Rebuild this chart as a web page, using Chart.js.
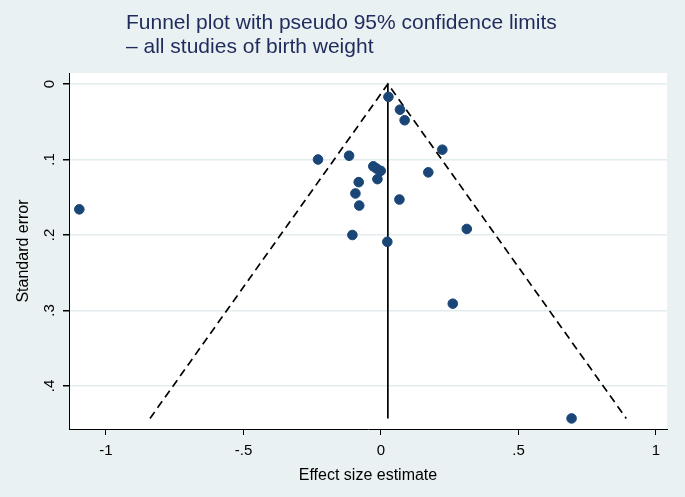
<!DOCTYPE html>
<html>
<head>
<meta charset="utf-8">
<script src="https://cdn.jsdelivr.net/npm/chart.js@4.4.1/dist/chart.umd.min.js"></script>
<style>
  html, body { margin: 0; padding: 0; background: #eaf1f2; }
  canvas { display: block; }
</style>
</head>
<body>
<canvas id="funnel" width="685" height="497"></canvas>
<script>
// Study estimates
const effectSize = [0.027, 0.069, 0.086, 0.223, -0.229, -0.116, -0.028, -0.016, -0.001, 0.172,
                    -0.081, -0.013, -0.093, -0.079, 0.067, 0.312, -0.104, 0.023, 0.261, 0.693, -1.097];
const standardError = [0.017, 0.034, 0.048, 0.087, 0.100, 0.095, 0.109, 0.112, 0.115, 0.117,
                       0.130, 0.126, 0.145, 0.161, 0.153, 0.192, 0.200, 0.209, 0.291, 0.443, 0.166];

// Pseudo 95% limits and pooled estimate line
const funnelX = [-0.84, 0.025, 0.892];
const funnelSE = [0.443, 0, 0.443];
const pooledX = [0.025, 0.025];
const pooledSE = [0, 0.443];

// Axis ticks
const xTicks = [-1, -0.5, 0, 0.5, 1];
const xTickLabels = ['-1', '-.5', '0', '.5', '1'];
const yTicks = [0, 0.1, 0.2, 0.3, 0.4];
const yTickLabels = ['0', '.1', '.2', '.3', '.4'];

const titleLines = ['Funnel plot with pseudo 95% confidence limits', '\u2013 all studies of birth weight'];

const toPoints = (xs, ys) => xs.map((x, i) => ({ x: x, y: ys[i] }));

// Background + white plot region
const backgroundPlugin = {
    id: 'background',
    beforeDraw(chart) {
        const ctx = chart.ctx;
        const area = chart.chartArea;
        ctx.save();
        ctx.fillStyle = '#eaf1f2';
        ctx.fillRect(0, 0, chart.width, chart.height);
        ctx.fillStyle = '#ffffff';
        ctx.fillRect(area.left, area.top, area.right - area.left, area.bottom - area.top);
        ctx.restore();
    }
};

// Title text and rotated y tick labels
const textPlugin = {
    id: 'texts',
    afterDraw(chart) {
        const ctx = chart.ctx;
        ctx.save();
        ctx.fillStyle = '#1f2b5c';
        ctx.font = '21px "Liberation Sans", Arial, sans-serif';
        ctx.textAlign = 'left';
        ctx.textBaseline = 'alphabetic';
        ctx.fillText(titleLines[0], 126, 29);
        ctx.fillText(titleLines[1], 126, 53);

        const yScale = chart.scales.y;
        ctx.fillStyle = '#000000';
        ctx.font = '15px "Liberation Sans", Arial, sans-serif';
        ctx.textAlign = 'center';
        ctx.textBaseline = 'middle';
        yTicks.forEach((v, i) => {
            const py = yScale.getPixelForValue(v);
            ctx.save();
            ctx.translate(50, py);
            ctx.rotate(-Math.PI / 2);
            ctx.fillText(yTickLabels[i], 0, 0);
            ctx.restore();
        });
        ctx.restore();
    }
};

const ctx = document.getElementById('funnel').getContext('2d');

new Chart(ctx, {
    type: 'scatter',
    data: {
        datasets: [
            {
                label: 'Studies',
                data: toPoints(effectSize, standardError),
                backgroundColor: '#1a4677',
                borderColor: '#1a4677',
                pointRadius: 4.8,
                pointHoverRadius: 4.8,
                order: 0
            },
            {
                label: 'Pseudo 95% CI',
                data: toPoints(funnelX, funnelSE),
                showLine: true,
                borderColor: '#000000',
                borderWidth: 1.7,
                borderDash: [8, 5],
                pointRadius: 0,
                fill: false,
                order: 1
            },
            {
                label: 'Pooled',
                data: toPoints(pooledX, pooledSE),
                showLine: true,
                borderColor: '#000000',
                borderWidth: 1.7,
                pointRadius: 0,
                fill: false,
                order: 1
            }
        ]
    },
    options: {
        responsive: false,
        animation: false,
        devicePixelRatio: 1,
        layout: {
            padding: { left: 0, right: 18, top: 73, bottom: 0 }
        },
        plugins: {
            legend: { display: false },
            tooltip: { enabled: false },
            title: { display: false }
        },
        scales: {
            x: {
                type: 'linear',
                min: -1.1345,
                max: 1.04,
                afterFit: function(scale) { scale.height = 68; },
                afterBuildTicks: function(scale) {
                    scale.ticks = xTicks.map(v => ({ value: v }));
                },
                border: { display: true, color: '#000000', width: 1 },
                grid: {
                    display: true,
                    drawOnChartArea: false,
                    drawTicks: true,
                    tickLength: 6,
                    tickColor: '#000000',
                    color: '#000000'
                },
                ticks: {
                    color: '#000000',
                    padding: 7,
                    maxRotation: 0,
                    font: { family: '"Liberation Sans", Arial, sans-serif', size: 15 },
                    callback: function(value) {
                        const i = xTicks.indexOf(value);
                        return i >= 0 ? xTickLabels[i] : '';
                    }
                },
                title: {
                    display: true,
                    text: 'Effect size estimate',
                    color: '#000000',
                    font: { family: '"Liberation Sans", Arial, sans-serif', size: 16 },
                    padding: { top: 0, bottom: 12 }
                }
            },
            y: {
                type: 'linear',
                reverse: true,
                min: -0.0146,
                max: 0.457,
                afterFit: function(scale) { scale.width = 69; },
                afterBuildTicks: function(scale) {
                    scale.ticks = yTicks.map(v => ({ value: v }));
                },
                border: { display: true, color: '#000000', width: 1 },
                grid: {
                    display: true,
                    drawOnChartArea: true,
                    drawTicks: true,
                    tickLength: 6,
                    tickColor: '#000000',
                    color: '#e3ecee',
                    lineWidth: 1.5
                },
                ticks: { display: false },
                title: {
                    display: true,
                    text: 'Standard error',
                    color: '#000000',
                    font: { family: '"Liberation Sans", Arial, sans-serif', size: 16 },
                    padding: { top: 14, bottom: 0 }
                }
            }
        }
    },
    plugins: [backgroundPlugin, textPlugin]
});
</script>
</body>
</html>
